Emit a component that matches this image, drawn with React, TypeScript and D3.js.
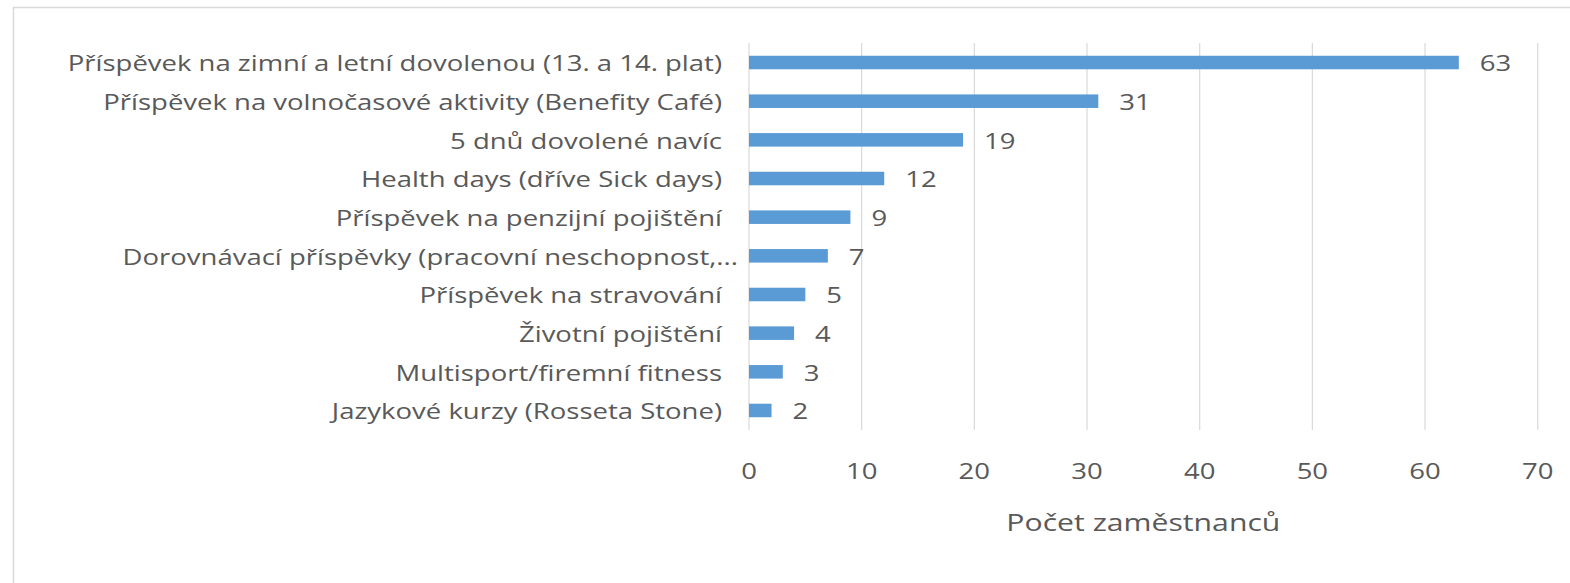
import React from "react";
import * as d3 from "d3";

const categories = [
  "Příspěvek na zimní a letní dovolenou (13. a 14. plat)",
  "Příspěvek na volnočasové aktivity (Benefity Café)",
  "5 dnů dovolené navíc",
  "Health days (dříve Sick days)",
  "Příspěvek na penzijní pojištění",
  "Dorovnávací příspěvky (pracovní neschopnost,...",
  "Příspěvek na stravování",
  "Životní pojištění",
  "Multisport/firemní fitness",
  "Jazykové kurzy (Rosseta Stone)",
];
const values = [63, 31, 19, 12, 9, 7, 5, 4, 3, 2];
const xTicks = [0, 10, 20, 30, 40, 50, 60, 70];
const axisTitle = "Počet zaměstnanců";

const W = 1570;
const H = 583;
const FONT = "'Open Sans', sans-serif";
const TEXT = "#595959";
const SX = 1.25;

function T(props: {
  x: number;
  y: number;
  anchor?: string;
  size?: number;
  sx?: number;
  children: React.ReactNode;
}) {
  const { x, y, anchor = "start", size = 22, sx = SX, children } = props;
  return (
    <text
      transform={`translate(${x},${y}) scale(${sx},1)`}
      textAnchor={anchor}
      dominantBaseline="central"
      fontSize={size}
      fill={TEXT}
    >
      {children}
    </text>
  );
}

export default function App() {
  const x = d3.scaleLinear().domain([0, 70]).range([749, 1537.7]);
  const y = d3
    .scaleBand<string>()
    .domain(categories)
    .range([43, 430])
    .paddingInner(0.65)
    .paddingOuter(0.33);
  const top = 43;
  const bottom = 430;
  return (
    <svg
      width={W}
      height={H}
      style={{ position: "fixed", left: 0, top: 0, background: "#fff" }}
      fontFamily={FONT}
    >
      <rect x={0} y={0} width={W} height={H} fill="#fff" />
      <path d={`M13.5,${H} L13.5,7.5 L${W},7.5`} fill="none" stroke="#d9d9d9" strokeWidth={1.5} />
      {xTicks.map((t) => (
        <line key={t} x1={x(t)} x2={x(t)} y1={top} y2={bottom} stroke="#d9d9d9" strokeWidth={1.2} />
      ))}
      {categories.map((c, i) => (
        <g key={c}>
          <rect
            x={x(0)}
            y={y(c)!}
            width={x(values[i]) - x(0)}
            height={y.bandwidth()}
            fill="#5B9BD5"
          />
          <T x={c.endsWith("...") ? 738 : 722} y={y(c)! + y.bandwidth() / 2} anchor="end">
            {c}
          </T>
          <T x={x(values[i]) + 21} y={y(c)! + y.bandwidth() / 2}>
            {values[i]}
          </T>
        </g>
      ))}
      {xTicks.map((t) => (
        <T key={t} x={x(t)} y={470} anchor="middle">
          {t}
        </T>
      ))}
      <T x={(x(0) + x(70)) / 2} y={522} anchor="middle" size={23.4} sx={1.29}>
        {axisTitle}
      </T>
    </svg>
  );
}
